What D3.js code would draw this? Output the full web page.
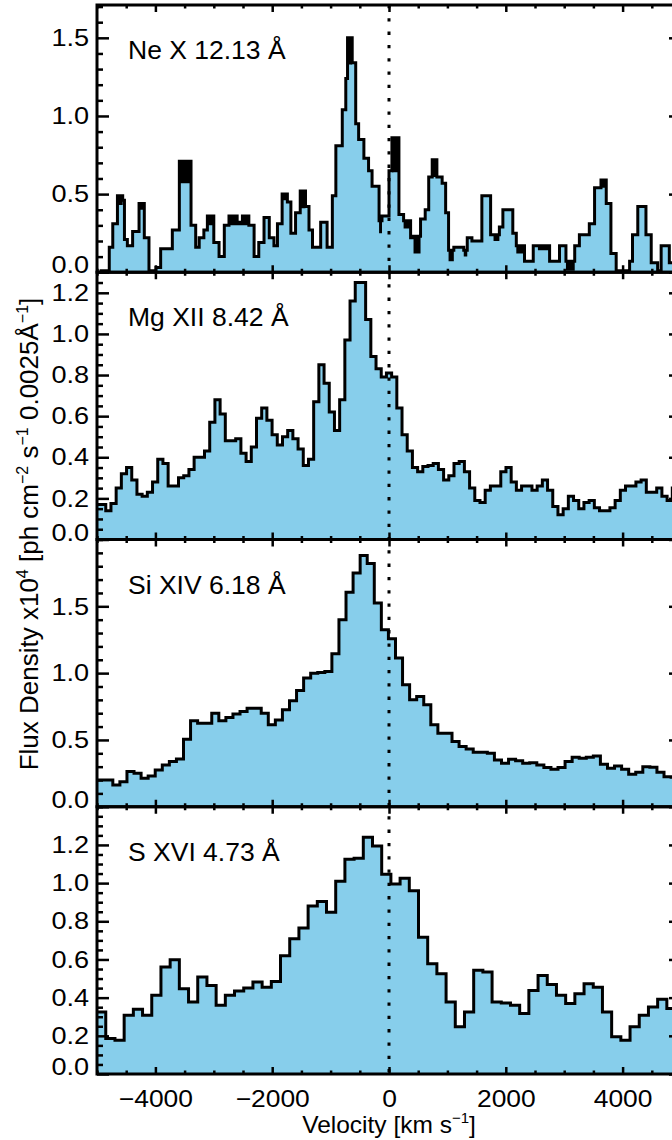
<!DOCTYPE html>
<html>
<head>
<meta charset="utf-8">
<script src="https://cdn.jsdelivr.net/npm/d3@7"></script>
<style>
  body { margin: 0; background: #fff; }
  text { font-family: "Liberation Sans", Arial, Helvetica, sans-serif; fill: #000; }
</style>
</head>
<body>
<div id="chart"></div>
<script>
// ---- data (velocity in km/s, flux density x1e4) ----
// Ne X: step left edges, outline values, and bins where the blue fill sits lower
const neEdges = [-5000,-4930,-4790,-4730,-4650,-4560,-4530,-4480,-4390,-4280,
  -4190,-4110,-3990,-3910,-3710,-3590,-3390,-3310,-3250,-3170,
  -3110,-3000,-2910,-2820,-2740,-2600,-2510,-2400,-2310,-2230,
  -2140,-2050,-1970,-1910,-1830,-1740,-1680,-1600,-1520,-1430,
  -1370,-1310,-1170,-1060,-970,-910,-800,-740,-710,-630,
  -570,-520,-430,-350,-290,-170,-120,0,50,170,
  250,370,420,540,620,680,740,820,910,970,
  1020,1110,1280,1340,1420,1590,1740,1790,1890,1950,
  2120,2180,2320,2470,2550,2750,2920,3030,3180,3260,
  3430,3520,3630,3720,3800,3890,4120,4170,4260,4400,
  4490,4600,4660,4800];
const neFlux = [0.0,0.01,0.16,0.31,0.49,0.46,0.21,0.17,0.26,0.44,
  0.22,0.01,0.03,0.15,0.27,0.71,0.30,0.16,0.22,0.27,
  0.36,0.19,0.10,0.30,0.36,0.32,0.36,0.30,0.10,0.19,
  0.35,0.22,0.17,0.31,0.50,0.45,0.25,0.38,0.52,0.42,
  0.27,0.16,0.32,0.16,0.49,0.81,1.04,1.24,1.50,1.34,
  0.95,0.85,0.73,0.65,0.55,0.33,0.36,0.65,0.86,0.37,
  0.33,0.22,0.23,0.34,0.40,0.61,0.72,0.61,0.57,0.38,
  0.14,0.16,0.14,0.22,0.20,0.49,0.24,0.24,0.29,0.40,
  0.25,0.17,0.07,0.17,0.17,0.07,0.17,0.07,0.17,0.24,
  0.31,0.54,0.59,0.44,0.12,0.01,0.07,0.24,0.42,0.24,
  0.06,0.01,0.17,0.06];
const neFillDips = [[-4650,0.43],[-4280,0.40],[-3590,0.57],[-3110,0.30],[-2740,0.30],
  [-2600,0.30],[-2510,0.30],[-1830,0.46],[-1520,0.41],[-710,1.33],[-170,0.25],
  [50,0.64],[250,0.28],[420,0.12],[740,0.61],[1020,0.07],[1280,0.10],[1790,0.20],
  [2180,0.12],[2550,0.14],[3030,0.01],[3630,0.54]];

// Mg XII: first value is the partial bin from -5000 to mgStart
const mgStart = -4850, mgWidth = 89;
const mgFlux = [0.17,
  0.14,0.175,0.25,0.32,0.35,0.29,0.22,0.21,0.23,0.28,
  0.39,0.37,0.26,0.26,0.30,0.31,0.34,0.40,0.40,0.43,
  0.57,0.68,0.61,0.48,0.48,0.49,0.42,0.38,0.45,0.59,
  0.64,0.58,0.51,0.46,0.50,0.53,0.49,0.44,0.36,0.39,
  0.67,0.85,0.76,0.62,0.53,0.68,0.97,1.16,1.25,1.25,
  1.07,0.89,0.83,0.79,0.81,0.79,0.64,0.51,0.43,0.35,
  0.33,0.355,0.36,0.37,0.34,0.29,0.31,0.37,0.38,0.33,
  0.25,0.19,0.18,0.24,0.26,0.26,0.33,0.35,0.28,0.24,
  0.26,0.26,0.24,0.26,0.29,0.24,0.16,0.12,0.15,0.21,
  0.19,0.15,0.18,0.19,0.155,0.14,0.14,0.155,0.19,0.24,
  0.26,0.26,0.28,0.29,0.23,0.23,0.25,0.21,0.19,0.25,0.25];

// Si XIV
const siStart = -4850, siWidth = 121;
const siFlux = [0.20,
  0.20,0.163,0.188,0.263,0.25,0.213,0.23,0.275,0.313,0.338,
  0.358,0.505,0.643,0.625,0.625,0.70,0.643,0.668,0.695,0.713,
  0.738,0.738,0.70,0.613,0.65,0.725,0.793,0.87,0.963,1.0,
  1.005,1.013,1.145,1.40,1.605,1.75,1.88,1.82,1.525,1.325,
  1.258,1.113,0.913,0.80,0.825,0.763,0.613,0.55,0.55,0.488,
  0.45,0.433,0.408,0.408,0.40,0.35,0.325,0.355,0.345,0.325,
  0.33,0.313,0.293,0.28,0.293,0.338,0.37,0.363,0.37,0.38,
  0.318,0.288,0.305,0.28,0.243,0.258,0.30,0.295,0.258,0.225,
  0.22,0.22];

// S XVI
const sStart = -4850, sWidth = 157.5;
const sFlux = [0.325,
  0.186,0.177,0.308,0.339,0.308,0.412,0.56,0.598,0.447,0.377,
  0.508,0.464,0.36,0.412,0.435,0.45,0.482,0.455,0.485,0.62,
  0.708,0.765,0.88,0.904,0.847,1.01,1.125,1.13,1.24,1.195,
  1.047,0.995,1.026,0.96,0.716,0.577,0.525,0.377,0.247,0.325,
  0.543,0.534,0.377,0.372,0.36,0.317,0.438,0.516,0.469,0.412,
  0.369,0.421,0.473,0.455,0.325,0.195,0.177,0.247,0.308,0.351,
  0.391,0.343,0.40];

const lineNames = ["Ne X 12.13 Å", "Mg XII 8.42 Å", "Si XIV 6.18 Å", "S XVI 4.73 Å"];
const yMax = [1.71, 1.30, 2.0, 1.40];
const yMajor = [[0, 0.5, 1.0, 1.5], [0, 0.2, 0.4, 0.6, 0.8, 1.0, 1.2],
                [0, 0.5, 1.0, 1.5], [0, 0.2, 0.4, 0.6, 0.8, 1.0, 1.2]];
const yMinorStep = [0.1, 0.05, 0.1, 0.05];
const xMajor = [-4000, -2000, 0, 2000, 4000];

// ---- layout ----
const W = 672, H = 1140;
const L = 97, R = 681, TOP = 5, PH = 267.25;
const BLUE = "#87ceeb";

const svg = d3.select("#chart").append("svg")
    .attr("width", W).attr("height", H);

const x = d3.scaleLinear().domain([-5000, 5000]).range([L, R]);
const xMinor = d3.range(-5000, 5001, 500).filter(v => v % 2000 !== 0);

function uniformEdges(start, width, n) {
    // first bin is the partial one starting at the left edge of the plot
    let e = [-5000];
    for (let i = 0; i < n; i++) e.push(start + i * width);
    return e;
}
function stepPoints(edges, vals) {
    let pts = vals.map((v, i) => [edges[i], v]);
    pts.push([edges.length > vals.length ? edges[vals.length] : 5000, vals[vals.length - 1]]);
    return pts;
}

const neFillVals = neFlux.map((v, i) => {
    let d = neFillDips.find(p => p[0] === neEdges[i]);
    return d ? d[1] : v;
});

const series = [
    {pts: stepPoints(neEdges.concat([5000]), neFlux), fill: stepPoints(neEdges.concat([5000]), neFillVals)},
    {pts: stepPoints(uniformEdges(mgStart, mgWidth, mgFlux.length), mgFlux)},
    {pts: stepPoints(uniformEdges(siStart, siWidth, siFlux.length), siFlux)},
    {pts: stepPoints(uniformEdges(sStart, sWidth, sFlux.length), sFlux)}
];

const fmt = d3.format(".1f");
const fills = svg.append("g");
const axesG = svg.append("g");

series.forEach((s, i) => {
    const top = TOP + i * PH, bot = top + PH;
    const y = d3.scaleLinear().domain([0, yMax[i]]).range([bot, top]);

    svg.append("clipPath").attr("id", "clip" + i)
        .append("rect").attr("x", L).attr("y", top).attr("width", R - L).attr("height", PH);

    const area = d3.area().x(d => x(d[0])).y0(y(0)).y1(d => y(d[1])).curve(d3.curveStepAfter);
    const line = d3.line().x(d => x(d[0])).y(d => y(d[1])).curve(d3.curveStepAfter);

    const plot = fills.append("g").attr("clip-path", `url(#clip${i})`);
    if (s.fill) {
        plot.append("path").attr("d", area(s.pts)).attr("fill", "#000");
        plot.append("path").attr("d", area(s.fill)).attr("fill", BLUE);
    } else {
        plot.append("path").attr("d", area(s.pts)).attr("fill", BLUE);
    }
    plot.append("path").attr("d", line(s.pts))
        .attr("fill", "none").attr("stroke", "#000").attr("stroke-width", 3);

    // axes
    const minor = d3.range(0, yMax[i] + 1e-9, yMinorStep[i])
        .filter(v => !yMajor[i].some(m => Math.abs(m - v) < 1e-6));
    const g = axesG.append("g");

    const left = g.append("g").attr("transform", `translate(${L},0)`)
        .call(d3.axisLeft(y).tickValues(yMajor[i]).tickSize(-12).tickPadding(7).tickFormat(fmt));
    left.selectAll("text")
        .attr("transform", d => "scale(1.13,1)" + (d === 0 ? " translate(0,-7)" : ""));
    g.append("g").attr("transform", `translate(${L},0)`)
        .call(d3.axisLeft(y).tickValues(minor).tickSize(-6).tickFormat(""));
    g.append("g").attr("transform", `translate(${R},0)`)
        .call(d3.axisRight(y).tickValues(yMajor[i]).tickSize(-12).tickFormat(""));
    g.append("g").attr("transform", `translate(${R},0)`)
        .call(d3.axisRight(y).tickValues(minor).tickSize(-6).tickFormat(""));

    const bottom = g.append("g").attr("transform", `translate(0,${bot})`)
        .call(d3.axisBottom(x).tickValues(xMajor).tickSize(-7).tickPadding(16)
            .tickFormat(i === 3 ? d3.format("d") : ""));
    bottom.selectAll("text").attr("transform", "scale(1.1,1)");
    g.append("g").attr("transform", `translate(0,${bot})`)
        .call(d3.axisBottom(x).tickValues(xMinor).tickSize(-3.5).tickFormat(""));
    g.append("g").attr("transform", `translate(0,${top})`)
        .call(d3.axisTop(x).tickValues(xMajor).tickSize(-7).tickFormat(""));
    g.append("g").attr("transform", `translate(0,${top})`)
        .call(d3.axisTop(x).tickValues(xMinor).tickSize(-3.5).tickFormat(""));

    g.append("rect").attr("x", L).attr("y", top).attr("width", R - L).attr("height", PH)
        .attr("fill", "none").attr("stroke", "#000").attr("stroke-width", 3);

    g.append("text").attr("x", 128).attr("y", top + 54)
        .style("font-size", "26.5px").text(lineNames[i]);
});

axesG.selectAll(".domain").remove();
axesG.selectAll(".tick line").attr("stroke", "#000").attr("stroke-width", 2.5);
axesG.selectAll(".tick text").style("font-size", "24px").attr("fill", "#000");

// zero-velocity dotted line
svg.append("line")
    .attr("x1", x(0)).attr("x2", x(0)).attr("y1", TOP).attr("y2", TOP + 4 * PH)
    .attr("stroke", "#000").attr("stroke-width", 3).attr("stroke-dasharray", "3.3,10");

// axis titles
const xt = svg.append("text").attr("x", x(0)).attr("y", 1133)
    .attr("text-anchor", "middle").style("font-size", "24.5px");
xt.append("tspan").text("Velocity [km s");
xt.append("tspan").attr("dy", -10).style("font-size", "15px").text("−1");
xt.append("tspan").attr("dy", 10).text("]");

const yt = svg.append("text")
    .attr("transform", `translate(38,534) rotate(-90)`)
    .attr("text-anchor", "middle").style("font-size", "26px");
yt.append("tspan").text("Flux Density x10");
yt.append("tspan").attr("dy", -10).style("font-size", "16px").text("4");
yt.append("tspan").attr("dy", 10).text(" [ph cm");
yt.append("tspan").attr("dy", -10).style("font-size", "16px").text("−2");
yt.append("tspan").attr("dy", 10).text(" s");
yt.append("tspan").attr("dy", -10).style("font-size", "16px").text("−1");
yt.append("tspan").attr("dy", 10).text(" 0.0025Å");
yt.append("tspan").attr("dy", -10).style("font-size", "16px").text("−1");
yt.append("tspan").attr("dy", 10).text("]");
</script>
</body>
</html>
